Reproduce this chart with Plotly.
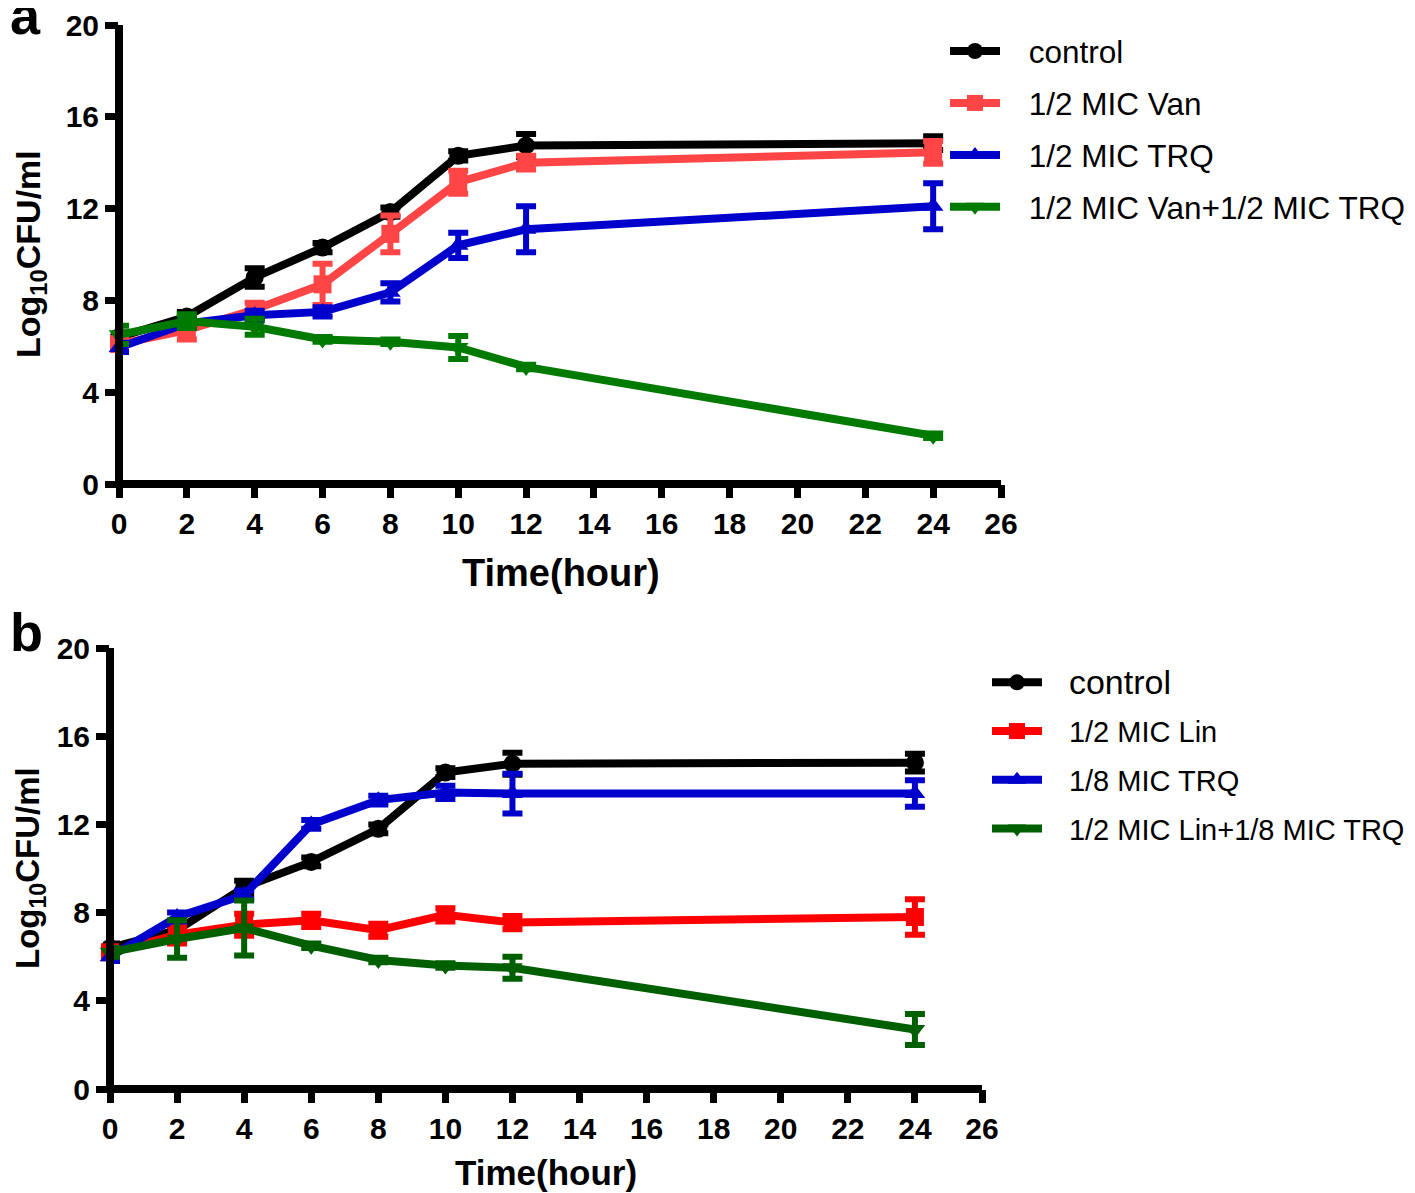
import plotly.graph_objects as go

# ---------------- data ----------------
time_pts = [0, 2, 4, 6, 8, 10, 12, 24]

# panel a
a_names = ["control", "1/2 MIC Van", "1/2 MIC TRQ", "1/2 MIC Van+1/2 MIC TRQ"]
a_control = [6.4, 7.3, 9.0, 10.3, 11.85, 14.3, 14.75, 14.85]
a_control_err = [0.2, 0.2, 0.4, 0.2, 0.2, 0.2, 0.5, 0.3]
a_van = [6.1, 6.7, 7.6, 8.7, 10.9, 13.15, 14.0, 14.45]
a_van_err = [0.3, 0.4, 0.3, 0.9, 0.8, 0.5, 0.3, 0.5]
a_trq = [5.95, 7.0, 7.35, 7.5, 8.35, 10.4, 11.1, 12.1]
a_trq_err = [0.2, 0.2, 0.2, 0.2, 0.4, 0.55, 1.0, 1.0]
a_combo = [6.5, 7.1, 6.85, 6.3, 6.2, 5.95, 5.1, 2.1]
a_combo_err = [0.4, 0.3, 0.35, 0.1, 0.1, 0.5, 0.1, 0.1]

# panel b
b_names = ["control", "1/2 MIC Lin", "1/8 MIC TRQ", "1/2 MIC Lin+1/8 MIC TRQ"]
b_control = [6.4, 7.2, 9.15, 10.3, 11.8, 14.35, 14.75, 14.8]
b_control_err = [0.2, 0.2, 0.3, 0.2, 0.2, 0.2, 0.5, 0.4]
b_lin = [6.2, 7.0, 7.45, 7.65, 7.2, 7.9, 7.55, 7.8]
b_lin_err = [0.2, 0.4, 0.5, 0.3, 0.3, 0.3, 0.3, 0.8]
b_trq = [6.0, 7.8, 8.8, 12.0, 13.1, 13.45, 13.4, 13.4]
b_trq_err = [0.2, 0.2, 0.2, 0.2, 0.2, 0.3, 0.9, 0.6]
b_combo = [6.2, 6.8, 7.3, 6.5, 5.85, 5.6, 5.5, 2.7]
b_combo_err = [0.2, 0.85, 1.25, 0.1, 0.1, 0.1, 0.5, 0.7]

x_ticks = list(range(0, 27, 2))
y_ticks = [0, 4, 8, 12, 16, 20]
x_range = [0, 26]
y_range = [0, 20]

# ---------------- style ----------------
FONT = "Liberation Sans, Arial, Helvetica, sans-serif"
a_colors = ["#000000", "#FF4545", "#0000CC", "#007A00"]
b_colors = ["#000000", "#FF0000", "#0000CC", "#005F00"]
symbols = ["circle", "square", "triangle-up", "triangle-down"]
GAP = "\u00a0\u00a0\u2009"  # spacing between legend symbol and text

# page has an 8px body margin; work in screenshot pixels
OFF = 8
W, H = 1415 - OFF, 1193 - OFF

def px(X):
    return (X - OFF) / W

def py(Y):
    return 1 - (Y - OFF) / H

# plot-area frames in screenshot pixels (left, right, bottom, top)
A_BOX = (119, 1001, 484, 25)
B_BOX = (110, 982, 1089, 648)

fig = go.Figure()

def add_panel(names, ys, errs, colors, xa, ya, legend, name_fmt):
    for i, (name, y, e, c, s) in enumerate(zip(names, ys, errs, colors, symbols)):
        fig.add_trace(go.Scatter(
            x=time_pts, y=y, name=name_fmt(i, name), mode="lines+markers",
            line=dict(color=c, width=8),
            marker=dict(symbol=s, size=18, color=c),
            error_y=dict(type="data", array=e, visible=True, color=c,
                         thickness=6, width=10),
            xaxis=xa, yaxis=ya, legend=legend, legendgroup=f"{legend}{i}",
            cliponaxis=False,
        ))

add_panel(a_names, [a_control, a_van, a_trq, a_combo],
          [a_control_err, a_van_err, a_trq_err, a_combo_err],
          a_colors, "x", "y", "legend", lambda i, n: GAP + n)
add_panel(b_names, [b_control, b_lin, b_trq, b_combo],
          [b_control_err, b_lin_err, b_trq_err, b_combo_err],
          b_colors, "x2", "y2", "legend2",
          lambda i, n: (GAP + f'<span style="font-size:34px">{n}</span>') if i == 0 else GAP + n)

tickfont = dict(family=FONT, size=30, color="black", weight="bold")

def axis_cfg(domain, anchor, rng, vals):
    return dict(domain=domain, anchor=anchor, range=rng, tickvals=vals,
                showline=False, ticks="outside",
                ticklen=13, tickwidth=7, tickcolor="black", tickfont=tickfont,
                showgrid=False, zeroline=False, fixedrange=True, automargin=False)

fig.update_layout(
    width=W, height=H,
    margin=dict(l=0, r=0, t=0, b=0, autoexpand=False),
    paper_bgcolor="white", plot_bgcolor="white",
    xaxis=axis_cfg([px(A_BOX[0]), px(A_BOX[1])], "y", x_range, x_ticks),
    yaxis=axis_cfg([py(A_BOX[2]), py(A_BOX[3])], "x", y_range, y_ticks),
    xaxis2=axis_cfg([px(B_BOX[0]), px(B_BOX[1])], "y2", x_range, x_ticks),
    yaxis2=axis_cfg([py(B_BOX[2]), py(B_BOX[3])], "x2", y_range, y_ticks),
    legend=dict(x=px(945), y=py(24), xanchor="left", yanchor="top",
                font=dict(family=FONT, size=31.5, color="black"),
                itemwidth=50, tracegroupgap=8, bgcolor="rgba(0,0,0,0)"),
    legend2=dict(x=px(987), y=py(657), xanchor="left", yanchor="top",
                 font=dict(family=FONT, size=29, color="black"),
                 itemwidth=50, tracegroupgap=8, bgcolor="rgba(0,0,0,0)"),
    showlegend=True,
)

# axis lines centred on the plot-area edges (x=0 and y=0), as in the original
LW = 8
shapes = []
for (l, r, b, t) in (A_BOX, B_BOX):
    shapes.append(dict(type="line", xref="paper", yref="paper",
                       x0=px(l - LW / 2), x1=px(r), y0=py(b), y1=py(b),
                       line=dict(color="black", width=LW), layer="above"))
    shapes.append(dict(type="line", xref="paper", yref="paper",
                       x0=px(l), x1=px(l), y0=py(b), y1=py(t),
                       line=dict(color="black", width=LW), layer="above"))
fig.update_layout(shapes=shapes)

title_font_a = dict(family=FONT, size=38, color="black", weight="bold")
title_font_b = dict(family=FONT, size=35, color="black", weight="bold")
label_font = dict(family=FONT, size=54, color="black", weight="bold")
annotations = [
    dict(text="a", x=0, y=py(15), xref="paper", yref="paper", xanchor="left",
         yanchor="middle", showarrow=False, font=label_font),
    dict(text="b", x=0, y=py(632), xref="paper", yref="paper", xanchor="left",
         yanchor="middle", showarrow=False, font=label_font),
    dict(text="Time(hour)", x=px(561), y=py(573), xref="paper", yref="paper",
         xanchor="center", yanchor="middle", showarrow=False, font=title_font_a),
    dict(text="Time(hour)", x=px(546), y=py(1172), xref="paper", yref="paper",
         xanchor="center", yanchor="middle", showarrow=False, font=title_font_b),
    dict(text="Log<sub>10</sub>CFU/ml", x=px(30), y=py(254), xref="paper",
         yref="paper", xanchor="center", yanchor="middle", textangle=-90,
         showarrow=False, font=dict(family=FONT, size=34, color="black", weight="bold")),
    dict(text="Log<sub>10</sub>CFU/ml", x=px(30), y=py(868), xref="paper",
         yref="paper", xanchor="center", yanchor="middle", textangle=-90,
         showarrow=False, font=dict(family=FONT, size=33, color="black", weight="bold")),
]
fig.update_layout(annotations=annotations)

fig.write_html("out.html")
